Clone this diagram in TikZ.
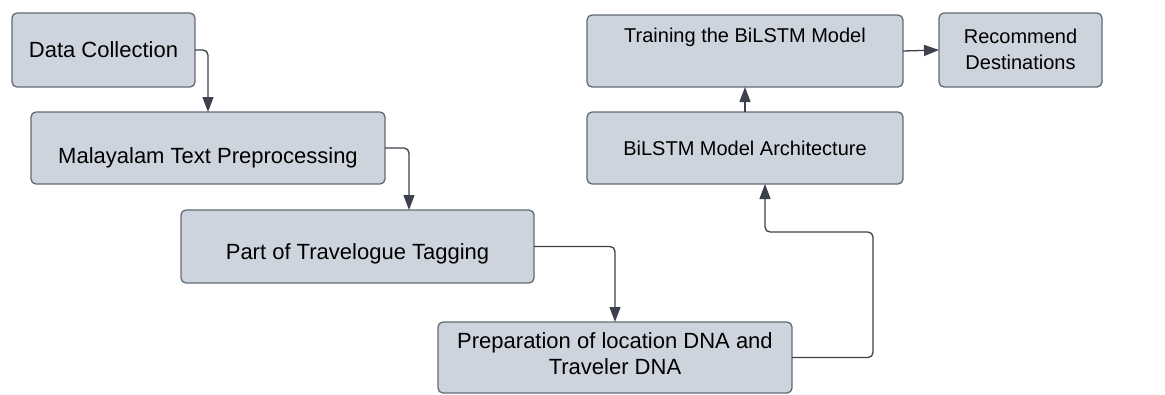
\documentclass[tikz,border=0pt]{standalone}
\usepackage{fontspec}
\setmainfont{Liberation Sans}
\usetikzlibrary{arrows.meta}
\definecolor{boxfill}{RGB}{206,212,222}
\definecolor{boxline}{RGB}{100,106,116}
\definecolor{arrcol}{RGB}{60,65,75}
\tikzset{
  box/.style={draw=boxline, fill=boxfill, line width=1.3pt, rounded corners=5pt, inner sep=0pt, outer sep=0pt},
  big/.style={font=\fontsize{22}{26}\selectfont, anchor=base, inner sep=0pt},
  small/.style={font=\fontsize{20}{26}\selectfont, anchor=base, inner sep=0pt},
  conn/.style={draw=arrcol, line width=1.3pt, rounded corners=5pt, -{Triangle[length=15pt,width=11pt]}}
}
\begin{document}
\begin{tikzpicture}[x=1pt,y=-1pt]
\useasboundingbox (0,0) rectangle (1165,394);
% boxes
\node[box, minimum width=183pt, minimum height=74pt] (dc) at (103.5,50) {};
\node[box, minimum width=354pt, minimum height=72pt] (mal) at (208,148) {};
\node[box, minimum width=353pt, minimum height=73pt] (part) at (357.5,246.5) {};
\node[box, minimum width=354pt, minimum height=71pt] (prep) at (615,357.5) {};
\node[box, minimum width=316pt, minimum height=72pt] (arch) at (745,148) {};
\node[box, minimum width=316pt, minimum height=72pt] (train) at (745,51) {};
\node[box, minimum width=163pt, minimum height=74pt] (rec) at (1020.5,50) {};
% texts
\node[big] (tdc) at (103.5,57) {Data Collection};
\node[big] (tmal) at (208,163) {Malayalam Text Preprocessing};
\node[big] (tpart) at (357.5,259) {Part of Travelogue Tagging};
\node[big] (tprep1) at (615,348) {Preparation of location DNA and};
\node[big] (tprep2) at (615,374) {Traveler DNA};
\node[small] (tarch) at (745,155) {BiLSTM Model Architecture};
\node[small] (ttrain) at (745,42.5) {Training the BiLSTM Model};
\node[small] (trec1) at (1020.5,43) {Recommend};
\node[small] (trec2) at (1020.5,69) {Destinations};
% connector x positions
\coordinate (x1) at (208,0);
\coordinate (x2) at (409,0);
\coordinate (x3) at (615,0);
\coordinate (x4) at (873,0);
\coordinate (x5) at (765,0);
\coordinate (y5) at (0,232);
% connectors
\draw[conn] (dc.east) -| (mal.north -| x1);
\draw[conn] (mal.east) -| (part.north -| x2);
\draw[conn] (part.east) -| (prep.north -| x3);
\draw[conn] (prep.east) -| (y5 -| x4) -| (arch.south -| x5);
\draw[conn] (arch.north) -- (train.south);
\draw[conn] (train.east) -- (rec.west);
\end{tikzpicture}
\end{document}
